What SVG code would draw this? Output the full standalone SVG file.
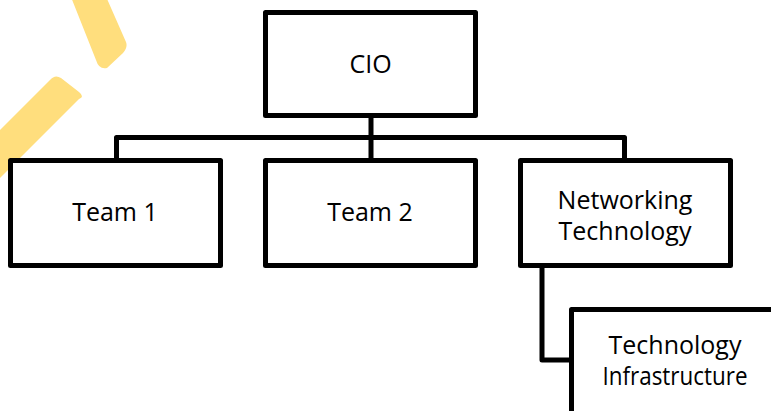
<svg xmlns="http://www.w3.org/2000/svg" width="771" height="411" viewBox="0 0 771 411">
  <style>
    .band { fill: #FFDE7D; }
    .box { fill: #FFFFFF; stroke: #000000; stroke-width: 5; stroke-linejoin: round; }
    .conn { fill: none; stroke: #000000; stroke-width: 5; stroke-linejoin: round; }
    .lbl { font-family: "Open Sans", "Liberation Sans", sans-serif; font-size: 25px; fill: #000000; text-anchor: middle; }
  </style>
  <g id="decoration">
    <path class="band" d="M69,-8 L96,60 Q99,70 107,68 L123,53 Q128,47 126,42 L104,-8 Z"/>
    <path class="band" d="M-20,150 L50,80 Q55,74 61,78 L79,92 Q85,97 79,99 L-20,198 Z"/>
  </g>
  <g id="connectors">
    <path class="conn" d="M371,115.5 V160.5 M116.5,160.5 V137.5 H624.5 V160.5"/>
    <path class="conn" d="M542,265.5 V360 H571.5"/>
  </g>
  <g id="cio">
    <rect class="box" x="265.5" y="12.5" width="210" height="103"/>
    <text class="lbl" x="370.5" y="72.5">CIO</text>
  </g>
  <g id="team1">
    <rect class="box" x="10.5" y="160.5" width="210" height="105"/>
    <text class="lbl" x="115" y="220.5">Team 1</text>
  </g>
  <g id="team2">
    <rect class="box" x="265.5" y="160.5" width="210" height="105"/>
    <text class="lbl" x="370" y="220.5">Team 2</text>
  </g>
  <g id="networking">
    <rect class="box" x="520.5" y="160.5" width="210" height="105"/>
    <text class="lbl" x="625" y="208.5">Networking</text>
    <text class="lbl" x="625" y="239.5">Technology</text>
  </g>
  <g id="infrastructure">
    <rect class="box" x="571.5" y="309.5" width="210" height="105"/>
    <text class="lbl" x="675" y="354">Technology</text>
    <text class="lbl" x="675" y="385" textLength="145" lengthAdjust="spacingAndGlyphs">Infrastructure</text>
  </g>
</svg>
